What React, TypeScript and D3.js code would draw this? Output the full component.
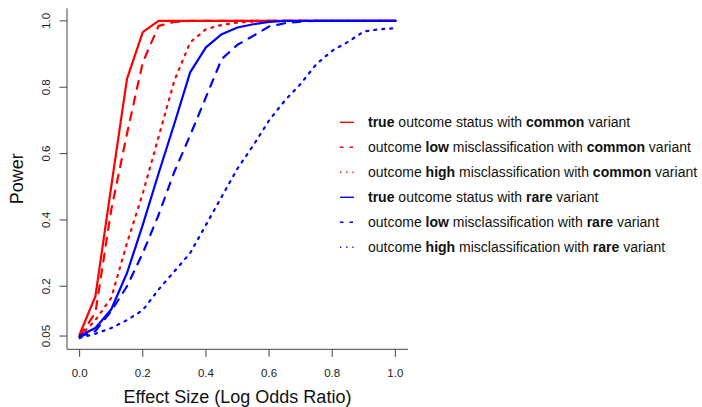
import React, { useEffect, useRef } from 'react';
import * as d3 from 'd3';

// effect size grid (log odds ratio)
const effectSize = [0, 0.05, 0.1, 0.15, 0.2, 0.25, 0.3, 0.35, 0.4, 0.45, 0.5, 0.55, 0.6, 0.65, 0.7, 0.75, 0.8, 0.85, 0.9, 0.95, 1.0];

// power curves
const trueCommon = [0.055, 0.17, 0.5, 0.825, 0.966, 1, 1, 1, 1, 1, 1, 1, 1, 1, 1, 1, 1, 1, 1, 1, 1];
const lowCommon = [0.05, 0.12, 0.43, 0.66, 0.875, 0.985, 0.997, 1, 1, 1, 1, 1, 1, 1, 1, 1, 1, 1, 1, 1, 1];
const highCommon = [0.048, 0.098, 0.165, 0.33, 0.48, 0.65, 0.82, 0.935, 0.975, 0.988, 0.995, 0.998, 1, 1, 1, 1, 1, 1, 1, 1, 1];
const trueRare = [0.05, 0.074, 0.13, 0.24, 0.385, 0.54, 0.69, 0.845, 0.92, 0.96, 0.98, 0.99, 0.997, 1, 1, 1, 1, 1, 1, 1, 1];
const lowRare = [0.048, 0.065, 0.125, 0.2, 0.3, 0.415, 0.545, 0.655, 0.77, 0.885, 0.928, 0.955, 0.983, 0.993, 0.998, 1, 1, 1, 1, 1, 1];
const highRare = [0.044, 0.057, 0.074, 0.098, 0.128, 0.19, 0.245, 0.3, 0.385, 0.47, 0.555, 0.625, 0.7, 0.76, 0.81, 0.87, 0.91, 0.937, 0.968, 0.975, 0.978];

const xTicks = [0, 0.2, 0.4, 0.6, 0.8, 1.0];
const yTicks = [0.05, 0.2, 0.4, 0.6, 0.8, 1.0];

// legend rows: [text, bold]
const legendLabels = [
  [['true', true], [' outcome status with ', false], ['common', true], [' variant', false]],
  [['outcome ', false], ['low', true], [' misclassification with ', false], ['common', true], [' variant', false]],
  [['outcome ', false], ['high', true], [' misclassification with ', false], ['common', true], [' variant', false]],
  [['true', true], [' outcome status with ', false], ['rare', true], [' variant', false]],
  [['outcome ', false], ['low', true], [' misclassification with ', false], ['rare', true], [' variant', false]],
  [['outcome ', false], ['high', true], [' misclassification with ', false], ['rare', true], [' variant', false]],
];

const series = [
  { values: trueCommon, color: '#ff0000', lty: 'solid' },
  { values: lowCommon, color: '#ff0000', lty: 'dashed' },
  { values: highCommon, color: '#ff0000', lty: 'dotted' },
  { values: trueRare, color: '#0000ff', lty: 'solid' },
  { values: lowRare, color: '#0000ff', lty: 'dashed' },
  { values: highRare, color: '#0000ff', lty: 'dotted' },
];

const PowerChart = () => {
  const svgRef = useRef(null);

  useEffect(() => {
    const width = 702;
    const height = 407;
    const plot = { left: 67, right: 408, top: 8.3, bottom: 349.3 };
    const font = '"Liberation Sans", Arial, sans-serif';

    const svg = d3.select(svgRef.current);
    svg.selectAll('*').remove();
    svg.attr('width', width).attr('height', height).attr('viewBox', [0, 0, width, height]);

    const x = d3.scaleLinear().domain([-0.04, 1.04]).range([plot.left, plot.right]);
    const y = d3.scaleLinear().domain([0.01, 1.038]).range([plot.bottom, plot.top]);

    const dash = { solid: null, dashed: '8,8', dotted: '2,6' };
    const legendDash = { solid: null, dashed: '3.5,6', dotted: '1.2,5' };

    // curves
    const line = d3.line().x((d, i) => x(effectSize[i])).y(d => y(d));
    series.forEach(s => {
      svg.append('path')
        .datum(s.values)
        .attr('d', line)
        .attr('fill', 'none')
        .attr('stroke', s.color)
        .attr('stroke-width', 2.2)
        .attr('stroke-linecap', 'round')
        .attr('stroke-linejoin', 'round')
        .attr('stroke-dasharray', dash[s.lty]);
    });

    // L-shaped box
    svg.append('path')
      .attr('d', `M${plot.left},${plot.top}V${plot.bottom}H${plot.right}`)
      .attr('fill', 'none')
      .attr('stroke', '#444')
      .attr('stroke-width', 1);

    // x axis
    const gx = svg.append('g');
    gx.selectAll('line')
      .data(xTicks)
      .join('line')
      .attr('x1', d => x(d)).attr('x2', d => x(d))
      .attr('y1', plot.bottom).attr('y2', plot.bottom + 7.5)
      .attr('stroke', '#444');
    gx.selectAll('text')
      .data(xTicks)
      .join('text')
      .attr('x', d => x(d))
      .attr('y', 377)
      .attr('text-anchor', 'middle')
      .attr('font-family', font)
      .attr('font-size', 11.5)
      .attr('fill', '#222')
      .text(d => d3.format('.1f')(d));

    // y axis
    const gy = svg.append('g');
    gy.selectAll('line')
      .data(yTicks)
      .join('line')
      .attr('x1', plot.left).attr('x2', plot.left - 7.5)
      .attr('y1', d => y(d)).attr('y2', d => y(d))
      .attr('stroke', '#444');
    gy.selectAll('text')
      .data(yTicks)
      .join('text')
      .attr('transform', d => `translate(49.5,${y(d)}) rotate(-90)`)
      .attr('text-anchor', 'middle')
      .attr('font-family', font)
      .attr('font-size', 11.5)
      .attr('fill', '#222')
      .text(d => (d === 0.05 ? '0.05' : d3.format('.1f')(d)));

    // axis titles
    svg.append('text')
      .attr('x', (plot.left + plot.right) / 2)
      .attr('y', 403)
      .attr('text-anchor', 'middle')
      .attr('font-family', font)
      .attr('font-size', 18)
      .attr('fill', '#111')
      .text('Effect Size (Log Odds Ratio)');

    svg.append('text')
      .attr('transform', `translate(23,${(plot.top + plot.bottom) / 2}) rotate(-90)`)
      .attr('text-anchor', 'middle')
      .attr('font-family', font)
      .attr('font-size', 18)
      .attr('fill', '#111')
      .text('Power');

    // legend
    const legend = svg.append('g');
    series.forEach((s, i) => {
      const ry = 122.3 + i * 25;
      legend.append('line')
        .attr('x1', 340).attr('x2', 354)
        .attr('y1', ry).attr('y2', ry)
        .attr('stroke', s.color)
        .attr('stroke-width', 1.4)
        .attr('stroke-dasharray', legendDash[s.lty]);
      const t = legend.append('text')
        .attr('x', 368)
        .attr('y', ry + 5)
        .attr('font-family', font)
        .attr('font-size', 14)
        .attr('fill', '#111');
      legendLabels[i].forEach(([txt, bold]) => {
        t.append('tspan')
          .attr('font-weight', bold ? 'bold' : 'normal')
          .style('white-space', 'pre')
          .text(txt);
      });
    });
  });

  return <svg ref={svgRef} style={{ position: 'absolute', left: 0, top: 0 }}></svg>;
};

export default function App() {
  return <PowerChart />;
}
